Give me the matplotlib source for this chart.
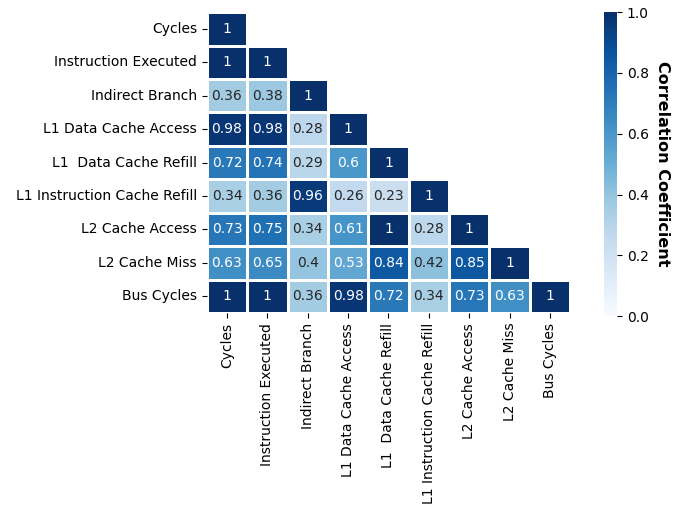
import numpy as np
import matplotlib
matplotlib.use("Agg")
import matplotlib.pyplot as plt
import seaborn as sns

# performance counter names
events = [
    "Cycles",
    "Instruction Executed",
    "Indirect Branch",
    "L1 Data Cache Access",
    "L1  Data Cache Refill",
    "L1 Instruction Cache Refill",
    "L2 Cache Access",
    "L2 Cache Miss",
    "Bus Cycles",
]

# lower triangle of the correlation matrix, one row per event
rows = [
    [1.0],
    [1.0, 1.0],
    [0.36, 0.38, 1.0],
    [0.98, 0.98, 0.28, 1.0],
    [0.72, 0.74, 0.29, 0.6, 1.0],
    [0.34, 0.36, 0.96, 0.26, 0.23, 1.0],
    [0.73, 0.75, 0.34, 0.61, 1.0, 0.28, 1.0],
    [0.63, 0.65, 0.4, 0.53, 0.84, 0.42, 0.85, 1.0],
    [1.0, 1.0, 0.36, 0.98, 0.72, 0.34, 0.73, 0.63, 1.0],
]

n = len(events)
corr = np.zeros((n, n))
for i, r in enumerate(rows):
    corr[i, :len(r)] = r
    corr[:len(r), i] = r
mask = np.triu(np.ones_like(corr, dtype=bool), k=1)

fig = plt.figure(figsize=(6.78, 5.09), dpi=100)
ax = fig.add_axes([0.305, 0.385, 0.536, 0.591])
cax = fig.add_axes([0.891, 0.379, 0.019, 0.597])

sns.heatmap(corr, mask=mask, cmap="Blues", vmin=0, vmax=1, annot=True,
            fmt=".2g", linewidths=2, linecolor="white", square=False,
            xticklabels=events, yticklabels=events, ax=ax, cbar_ax=cax,
            annot_kws={"fontsize": 10})

ax.tick_params(axis="both", labelsize=10)
plt.setp(ax.get_xticklabels(), rotation=90)
plt.setp(ax.get_yticklabels(), rotation=0)

cax.tick_params(labelsize=10)
cax.set_ylabel("Correlation Coefficient", rotation=270, labelpad=15,
               fontsize=11.5, fontweight="bold")

fig.savefig("out.png", dpi=100)
